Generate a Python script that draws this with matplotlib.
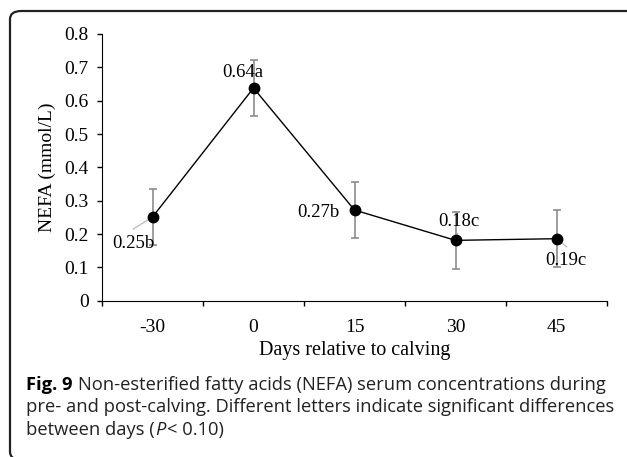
import numpy as np
import matplotlib

matplotlib.use('agg')
import matplotlib.pyplot as plt
from matplotlib.patches import FancyBboxPatch

# data
days = ['-30', '0', '15', '30', '45']
nefa = [0.251, 0.638, 0.272, 0.181, 0.186]
err = [0.085, 0.084, 0.085, 0.085, 0.085]
labels = ['0.25b', '0.64a', '0.27b', '0.18c', '0.19c']

W, H = 627, 457
fig = plt.figure(figsize=(W / 100, H / 100), dpi=100)

# rounded frame round the figure + caption
frame = FancyBboxPatch((10 / W, -3 / H), 660 / W, (H - 11 + 3) / H,
                       boxstyle='round,pad=0,rounding_size=0.018',
                       transform=fig.transFigure, fill=False,
                       edgecolor='#222222', linewidth=1.6, clip_on=False)
fig.patches.append(frame)

ax = fig.add_axes([102 / W, 1 - 300.7 / H, (607 - 102) / W, (300.7 - 34) / H])
x = np.arange(len(days))
ax.errorbar(x, nefa, yerr=err, fmt='none', ecolor='#8c8c8c',
            elinewidth=1.2, capsize=2.6, capthick=1.2, zorder=2)
ax.plot(x, nefa, '-', color='black', linewidth=1.0, zorder=3)
ax.plot(x, nefa, 'o', color='black', markersize=7.5, zorder=4)

serif = 'Liberation Serif'
# label offsets (category units, data units) and leader line ends
offsets = [(-0.19, -0.078), (-0.11, 0.048), (-0.36, -0.006), (0.03, 0.057), (0.09, -0.066)]
leader_ends = [(-0.19, -0.036), None, None, (0.02, 0.021), (0.1, -0.024)]
for xi, yi, lab, (dx, dy), le in zip(x, nefa, labels, offsets, leader_ends):
    if le is not None:
        ax.plot([xi, xi + le[0]], [yi, yi + le[1]],
                color='#c0c0c0', linewidth=1.0, zorder=3)
    ax.text(xi + dx, yi + dy, lab, ha='center', va='center', fontsize=13.5,
            family=serif, zorder=5)

ax.set_xlim(-0.5, 4.5)
ax.set_ylim(0, 0.8)
ax.set_yticks(np.arange(0, 0.81, 0.1))
ax.set_yticklabels(['0'] + ['%.1f' % v for v in np.arange(0.1, 0.81, 0.1)])
ax.set_xticks(x)
ax.set_xticklabels(days)
ax.set_xticks(np.arange(-0.5, 4.6, 1), minor=True)
ax.tick_params(axis='x', which='major', length=0, pad=13)
ax.tick_params(axis='x', which='minor', length=3.6, width=1.0)
ax.tick_params(axis='y', length=3.6, width=1.0, pad=6)
ax.tick_params(labelsize=14)
for t in ax.get_xticklabels() + ax.get_yticklabels():
    t.set_family(serif)
ax.spines['top'].set_visible(False)
ax.spines['right'].set_visible(False)
ax.set_ylabel('NEFA (mmol/L)', fontsize=14, family=serif, labelpad=6)
ax.set_xlabel('Days relative to calving', fontsize=14.5, family=serif, labelpad=4)

# caption
cap = 'Open Sans'
cs = 13.2
t1 = fig.text(26 / W, 1 - 385 / H, 'Fig. 9', fontsize=cs, family=cap,
              fontweight='bold', va='center', ha='left')
fig.canvas.draw()
bb = t1.get_window_extent()
fig.text(bb.x1 / W + 5 / W, 1 - 385 / H,
         'Non-esterified fatty acids (NEFA) serum concentrations during',
         fontsize=cs, family=cap, va='center', ha='left', color='#222222')
fig.text(26 / W, 1 - 407.5 / H,
         'pre- and post-calving. Different letters indicate significant differences',
         fontsize=cs, family=cap, va='center', ha='left', color='#222222')
t3 = fig.text(26 / W, 1 - 430 / H, 'between days (', fontsize=cs, family=cap,
              va='center', ha='left', color='#222222')
fig.canvas.draw()
bb = t3.get_window_extent()
t4 = fig.text(bb.x1 / W, 1 - 430 / H, 'P', fontsize=cs, family=cap,
              style='italic', va='center', ha='left', color='#222222')
fig.canvas.draw()
bb = t4.get_window_extent()
fig.text(bb.x1 / W + 2 / W, 1 - 430 / H, '< 0.10)', fontsize=cs, family=cap,
         va='center', ha='left', color='#222222')

plt.savefig('out.png', dpi=100)
